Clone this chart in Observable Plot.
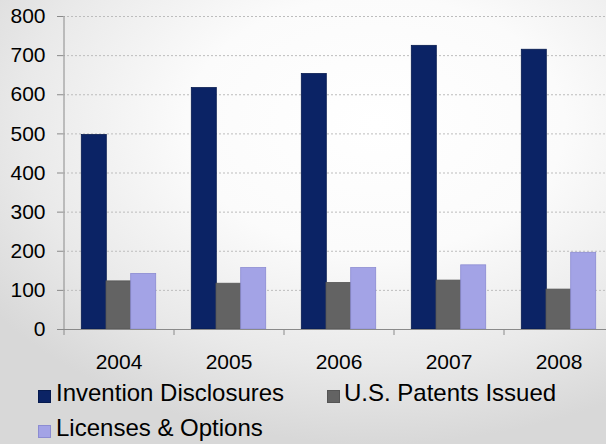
<!DOCTYPE html>
<html><head><meta charset="utf-8">
<script src="https://cdn.jsdelivr.net/npm/d3@7"></script>
<script src="https://cdn.jsdelivr.net/npm/@observablehq/plot@0.6"></script>
<style>
html,body{margin:0;padding:0;}
body{width:606px;height:444px;overflow:hidden;}
#wrap{position:relative;width:606px;height:444px;overflow:hidden;
  background:radial-gradient(ellipse 78% 72% at 62% 28%, #ffffff 0%, #fbfbfb 40%, #e9e9e9 75%, #d8d8d8 100%);
  font-family:"Liberation Sans",Arial,sans-serif;}
#chart{position:absolute;left:0;top:0;}
.sw{position:absolute;width:13px;height:13px;box-sizing:border-box;}
.lt{position:absolute;font-size:24px;line-height:24px;color:#000;white-space:nowrap;}
</style></head><body>
<div id="wrap"><div id="chart"></div><div id="legend"></div></div>
<script>
const years = ["2004", "2005", "2006", "2007", "2008"];
const inventionDisclosures = [497, 617, 653, 725, 715];
const patentsIssued = [123, 117, 119, 125, 102];
const licensesOptions = [142, 157, 157, 164, 196];
const yTicks = [0, 100, 200, 300, 400, 500, 600, 700, 800];
const seriesNames = ["Invention Disclosures", "U.S. Patents Issued", "Licenses & Options"];
const seriesColors = ["#0b2365", "#636363", "#a3a3e6"];
const seriesEdges = ["#061a4e", "#555555", "#8c8cd2"];
const seriesValues = [inventionDisclosures, patentsIssued, licensesOptions];

const W = 614, H = 380, ML = 63, MR = 1;
const step = (W - ML - MR) / years.length;
const padIn = 0.7755;
const barW = step * (1 - padIn);

const bars = seriesValues.map((vals, s) =>
  Plot.barY(years.map((year, i) => ({year, value: vals[i], series: seriesNames[s]})), {
    x: "year", y: "value", fill: seriesColors[s], stroke: seriesEdges[s], strokeWidth: 0.8,
    dx: (s - 1) * barW
  })
);

const chart = Plot.plot({
  width: W, height: H,
  marginLeft: ML, marginRight: MR, marginTop: 16, marginBottom: 51,
  style: {background: "transparent", maxWidth: "none", fontFamily: "'Liberation Sans', Arial, sans-serif", color: "#000", overflow: "hidden"},
  x: {domain: years, paddingInner: padIn, paddingOuter: padIn / 2, axis: null},
  y: {domain: [0, 800], axis: null},
  marks: [
    Plot.gridY(yTicks, {stroke: "#bdbdbd", strokeOpacity: 1, strokeWidth: 1, strokeDasharray: "2,2"}),
    ...bars,
    Plot.ruleY([0], {stroke: "#8a8a8a"}),
    Plot.ruleX([years[0]], {y1: 0, y2: 800, dx: -step / 2, stroke: "#8a8a8a"}),
    Plot.axisY(yTicks, {tickSize: 6, tickPadding: 12, stroke: "#8a8a8a", fill: "#000", fontSize: 21, label: null}),
    Plot.axisX(years, {tickSize: 6, dx: -step / 2, tickFormat: () => "", stroke: "#8a8a8a", label: null}),
    Plot.axisX(years, {tickSize: 0, tickPadding: 25, fill: "#000", fontSize: 21, label: null})
  ]
});
document.getElementById("chart").appendChild(chart);

const legendPos = [
  {sx: 38, sy: 390, tx: 56, ty: 381},
  {sx: 327, sy: 390, tx: 344, ty: 381},
  {sx: 38, sy: 425, tx: 56, ty: 416}
];
const legend = document.getElementById("legend");
seriesNames.forEach((name, i) => {
  const p = legendPos[i];
  const sw = document.createElement("div");
  sw.className = "sw";
  sw.style.left = p.sx + "px"; sw.style.top = p.sy + "px";
  sw.style.background = seriesColors[i];
  sw.style.border = "1px solid " + seriesEdges[i];
  legend.appendChild(sw);
  const t = document.createElement("div");
  t.className = "lt";
  t.style.left = p.tx + "px"; t.style.top = p.ty + "px";
  t.textContent = name;
  legend.appendChild(t);
});
</script></body></html>
